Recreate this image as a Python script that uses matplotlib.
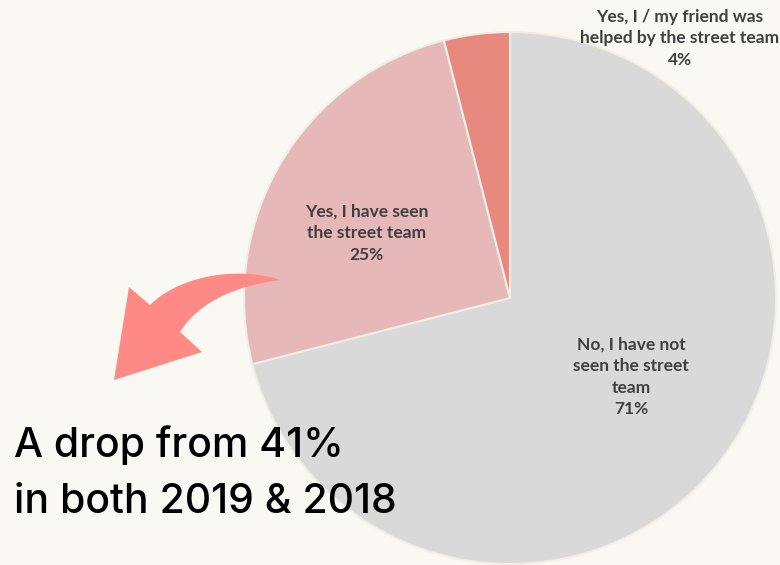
import matplotlib
matplotlib.use("Agg")
import matplotlib.pyplot as plt
from matplotlib.path import Path
from matplotlib.patches import PathPatch

categories = ["No, I have not\nseen the street\nteam", "Yes, I have seen\nthe street team",
              "Yes, I / my friend was\nhelped by the street team"]
values = [71, 25, 4]
colors = ["#D9D9D9", "#E6B8B7", "#E8897F"]
label_pos = [(0.455, -0.297), (-0.538, 0.244), (0.639, 0.977)]

BG = "#F9F8F3"
W, H = 780, 565
fig = plt.figure(figsize=(7.8, 5.65), dpi=100, facecolor=BG)

cx, cy, r = 510, 298, 266
ax = fig.add_axes([(cx - r) / W, (H - cy - r) / H, 2 * r / W, 2 * r / H])
ax.set_facecolor("none")
wedges, _ = ax.pie(values, colors=colors, startangle=90, counterclock=False, radius=1,
                   wedgeprops=dict(edgecolor="#F1EEE4", linewidth=1.5))
for w in wedges:
    w.set_clip_on(False)
ax.set_xlim(-1, 1)
ax.set_ylim(-1, 1)
ax.set_aspect("auto")
ax.axis("off")

for cat, v, (x, y) in zip(categories, values, label_pos):
    ax.text(x, y, f"{cat}\n{v}%", ha="center", va="center", fontsize=12.5,
            fontweight="bold", color="#404040", family="Lato", linespacing=1.42,
            clip_on=False)

# curved arrow (annotation) in pixel coords
def P(x, y):
    return (x / W, (H - y) / H)

verts = [P(280, 280), P(240, 266), P(180, 275), P(150, 305),
         P(129, 287), P(114, 380), P(202, 352), P(180, 332),
         P(200, 300), P(240, 285), P(280, 280), P(280, 280)]
codes = [Path.MOVETO, Path.CURVE4, Path.CURVE4, Path.CURVE4,
         Path.LINETO, Path.LINETO, Path.LINETO, Path.LINETO,
         Path.CURVE4, Path.CURVE4, Path.CURVE4, Path.CLOSEPOLY]
fig.patches.append(PathPatch(Path(verts, codes), transform=fig.transFigure,
                             facecolor="#FF8A85", edgecolor="none"))

fig.text(14 / W, (H - 445) / H, "A drop from 41%", fontsize=29.5, color="black",
         family="Inter", fontweight="medium", va="center", ha="left")
fig.text(14 / W, (H - 502) / H, "in both 2019 & 2018", fontsize=29.5, color="black",
         family="Inter", fontweight="medium", va="center", ha="left")

fig.savefig("out.png", dpi=100, facecolor=BG)
